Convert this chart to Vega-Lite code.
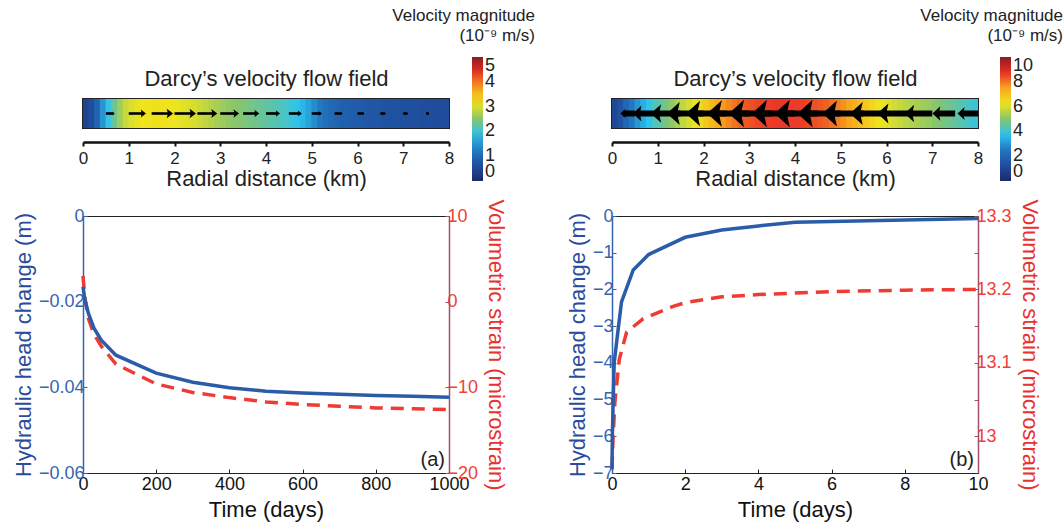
{
  "$schema": "https://vega.github.io/schema/vega-lite/v6.json",
  "padding": {"left": 11, "top": 7, "right": 4, "bottom": 4},
  "background": "white",
  "config": {"font": "Liberation Sans", "axis": {"grid": false}, "legend": {"padding": 0}},
  "datasets": {
    "fieldA": [
      {"r":0.0625,"v":0.45},{"r":0.1875,"v":0.6},{"r":0.3125,"v":0.95},{"r":0.4375,"v":1.5},{"r":0.5625,"v":1.95},{"r":0.6875,"v":2.3},{"r":0.8125,"v":2.65},{"r":0.9375,"v":2.9},
      {"r":1.0625,"v":3.0},{"r":1.1875,"v":3.08},{"r":1.3125,"v":3.12},{"r":1.4375,"v":3.14},{"r":1.5625,"v":3.15},{"r":1.6875,"v":3.15},{"r":1.8125,"v":3.14},{"r":1.9375,"v":3.12},
      {"r":2.0625,"v":3.1},{"r":2.1875,"v":3.06},{"r":2.3125,"v":3.02},{"r":2.4375,"v":2.97},{"r":2.5625,"v":2.91},{"r":2.6875,"v":2.85},{"r":2.8125,"v":2.78},{"r":2.9375,"v":2.7},
      {"r":3.0625,"v":2.63},{"r":3.1875,"v":2.58},{"r":3.3125,"v":2.53},{"r":3.4375,"v":2.48},{"r":3.5625,"v":2.43},{"r":3.6875,"v":2.38},{"r":3.8125,"v":2.33},{"r":3.9375,"v":2.28},
      {"r":4.0625,"v":2.23},{"r":4.1875,"v":2.18},{"r":4.3125,"v":2.12},{"r":4.4375,"v":2.05},{"r":4.5625,"v":1.98},{"r":4.6875,"v":1.9},{"r":4.8125,"v":1.78},{"r":4.9375,"v":1.6},
      {"r":5.0625,"v":1.42},{"r":5.1875,"v":1.27},{"r":5.3125,"v":1.14},{"r":5.4375,"v":1.04},{"r":5.5625,"v":0.97},{"r":5.6875,"v":0.92},{"r":5.8125,"v":0.88},{"r":5.9375,"v":0.84},
      {"r":6.0625,"v":0.81},{"r":6.1875,"v":0.78},{"r":6.3125,"v":0.76},{"r":6.4375,"v":0.74},{"r":6.5625,"v":0.72},{"r":6.6875,"v":0.7},{"r":6.8125,"v":0.69},{"r":6.9375,"v":0.67},
      {"r":7.0625,"v":0.66},{"r":7.1875,"v":0.65},{"r":7.3125,"v":0.64},{"r":7.4375,"v":0.63},{"r":7.5625,"v":0.62},{"r":7.6875,"v":0.61},{"r":7.8125,"v":0.6},{"r":7.9375,"v":0.6}
    ],
    "fieldB": [
      {"r":0.0625,"v":1.0},{"r":0.1875,"v":1.4},{"r":0.3125,"v":2.0},{"r":0.4375,"v":2.5},{"r":0.5625,"v":3.0},{"r":0.6875,"v":3.4},{"r":0.8125,"v":3.8},{"r":0.9375,"v":4.2},
      {"r":1.0625,"v":4.5},{"r":1.1875,"v":4.8},{"r":1.3125,"v":5.1},{"r":1.4375,"v":5.4},{"r":1.5625,"v":5.7},{"r":1.6875,"v":5.95},{"r":1.8125,"v":6.2},{"r":1.9375,"v":6.5},
      {"r":2.0625,"v":6.8},{"r":2.1875,"v":7.1},{"r":2.3125,"v":7.35},{"r":2.4375,"v":7.6},{"r":2.5625,"v":7.8},{"r":2.6875,"v":8.0},{"r":2.8125,"v":8.15},{"r":2.9375,"v":8.3},
      {"r":3.0625,"v":8.4},{"r":3.1875,"v":8.5},{"r":3.3125,"v":8.55},{"r":3.4375,"v":8.6},{"r":3.5625,"v":8.65},{"r":3.6875,"v":8.65},{"r":3.8125,"v":8.65},{"r":3.9375,"v":8.6},
      {"r":4.0625,"v":8.6},{"r":4.1875,"v":8.55},{"r":4.3125,"v":8.5},{"r":4.4375,"v":8.4},{"r":4.5625,"v":8.3},{"r":4.6875,"v":8.2},{"r":4.8125,"v":8.05},{"r":4.9375,"v":7.9},
      {"r":5.0625,"v":7.7},{"r":5.1875,"v":7.5},{"r":5.3125,"v":7.3},{"r":5.4375,"v":7.05},{"r":5.5625,"v":6.8},{"r":5.6875,"v":6.55},{"r":5.8125,"v":6.35},{"r":5.9375,"v":6.2},
      {"r":6.0625,"v":6.05},{"r":6.1875,"v":5.9},{"r":6.3125,"v":5.75},{"r":6.4375,"v":5.6},{"r":6.5625,"v":5.5},{"r":6.6875,"v":5.4},{"r":6.8125,"v":5.3},{"r":6.9375,"v":5.2},
      {"r":7.0625,"v":5.05},{"r":7.1875,"v":4.9},{"r":7.3125,"v":4.75},{"r":7.4375,"v":4.6},{"r":7.5625,"v":4.45},{"r":7.6875,"v":4.3},{"r":7.8125,"v":4.15},{"r":7.9375,"v":4.0}
    ],
    "arrowsA": [
      {"r":0.5,"e":0.665,"len":0.19},{"r":1.0,"e":1.32,"len":0.37},{"r":1.5,"e":1.9,"len":0.46},{"r":2.0,"e":2.4,"len":0.46},{"r":2.5,"e":2.87,"len":0.43},
      {"r":3.0,"e":3.35,"len":0.4},{"r":3.5,"e":3.8,"len":0.35},{"r":4.0,"e":4.26,"len":0.3},{"r":4.5,"e":4.74,"len":0.28},{"r":5.0,"e":5.19,"len":0.22},
      {"r":5.5,"e":5.65,"len":0.17},{"r":6.0,"e":6.13,"len":0.15},{"r":6.5,"e":6.6,"len":0.12},{"r":7.0,"e":7.09,"len":0.1},{"r":7.5,"e":7.56,"len":0.07}
    ],
    "arrowsB": [
      {"r":0.5,"e":0.24,"len":0.32},{"r":1.0,"e":0.55,"len":0.55},{"r":1.5,"e":0.96,"len":0.65},{"r":2.0,"e":1.34,"len":0.8},{"r":2.5,"e":1.77,"len":0.88},
      {"r":3.0,"e":2.24,"len":0.92},{"r":3.5,"e":2.72,"len":0.95},{"r":4.0,"e":3.22,"len":0.95},{"r":4.5,"e":3.72,"len":0.95},{"r":5.0,"e":4.22,"len":0.95},
      {"r":5.5,"e":4.76,"len":0.9},{"r":6.0,"e":5.34,"len":0.8},{"r":6.5,"e":5.92,"len":0.7},{"r":7.0,"e":6.5,"len":0.6},{"r":7.5,"e":7.09,"len":0.5},{"r":8.0,"e":7.63,"len":0.45}
    ],
    "headA": [
      {"t":0,"h":-0.0165},{"t":5,"h":-0.0195},{"t":15,"h":-0.0228},{"t":30,"h":-0.0262},{"t":50,"h":-0.029},{"t":90,"h":-0.0325},{"t":200,"h":-0.0367},{"t":300,"h":-0.0388},
      {"t":400,"h":-0.0401},{"t":500,"h":-0.0409},{"t":600,"h":-0.0413},{"t":700,"h":-0.0416},{"t":800,"h":-0.0419},{"t":900,"h":-0.0421},{"t":1000,"h":-0.0423}
    ],
    "strainA": [
      {"t":0,"s":3.0},{"t":5,"s":0.5},{"t":15,"s":-2.0},{"t":30,"s":-3.8},{"t":50,"s":-5.2},{"t":90,"s":-7.3},{"t":200,"s":-9.6},{"t":300,"s":-10.6},
      {"t":400,"s":-11.2},{"t":500,"s":-11.7},{"t":600,"s":-12.0},{"t":700,"s":-12.2},{"t":800,"s":-12.4},{"t":900,"s":-12.5},{"t":1000,"s":-12.6}
    ],
    "headB": [
      {"t":0,"h":-6.9},{"t":0.01,"h":-6.0},{"t":0.03,"h":-5.1},{"t":0.06,"h":-4.0},{"t":0.17,"h":-3.07},{"t":0.26,"h":-2.34},{"t":0.58,"h":-1.47},
      {"t":1.0,"h":-1.05},{"t":2,"h":-0.58},{"t":3,"h":-0.38},{"t":4,"h":-0.27},{"t":5,"h":-0.17},{"t":10,"h":-0.07}
    ],
    "strainB": [
      {"t":0,"s":12.955},{"t":0.03,"s":13.0},{"t":0.08,"s":13.047},{"t":0.2,"s":13.105},{"t":0.4,"s":13.142},{"t":0.85,"s":13.16},{"t":1.67,"s":13.177},
      {"t":2,"s":13.182},{"t":3,"s":13.19},{"t":4,"s":13.193},{"t":5,"s":13.195},{"t":6,"s":13.197},{"t":8,"s":13.199},{"t":10,"s":13.2}
    ]
  },
  "concat": [
    {
      "width": 366, "height": 29,
      "view": {"stroke": "#222", "strokeWidth": 2},
      "layer": [
        {
          "data": {"name": "fieldA"},
          "mark": {"type": "tick", "orient": "vertical", "thickness": 6.5, "size": 29, "opacity": 1, "clip": true},
          "encoding": {
            "x": {"field": "r", "type": "quantitative", "title": "Radial distance (km)", "scale": {"domain": [0, 8], "nice": false, "zero": false},
              "axis": {"orient": "bottom", "offset": 14, "values": [0,1,2,3,4,5,6,7,8], "domainColor": "#111", "domainWidth": 2.5, "tickColor": "#111", "tickWidth": 2, "tickSize": 4,
                "labelFontSize": 17, "labelColor": "#222", "labelPadding": 4, "labelFlush": false, "titleFontSize": 22, "titleFontWeight": "normal", "titleColor": "#222", "titlePadding": 2}},
            "y": {"datum": 0, "type": "quantitative", "scale": {"domain": [-1, 1]}, "axis": null},
            "color": {"field": "v", "type": "quantitative",
              "scale": {"domain": [0,0.625,1.25,1.875,2.5,3.125,3.75,4.375,5], "range": ["#1a2a6c","#1f4e9e","#2277c0","#2cc3ee","#86c56e","#efe51d","#f7a51d","#ea2d27","#8c1c1f"], "interpolate": "rgb"},
              "legend": {"orient": "none", "legendX": 309, "legendY": -91, "direction": "vertical", "gradientLength": 124, "gradientThickness": 11, "gradientStrokeWidth": 0,
                "values": [0,1,2,3,4,5], "labelBaseline": "middle", "labelExpr": "datum.label + '        \u200b'",
                "title": ["Velocity magnitude", "(10⁻⁹ m/s)"], "titleFontSize": 17, "titleFontWeight": "normal", "titleColor": "#222",
                "titleAnchor": "end", "titleAlign": "right", "titleLineHeight": 20, "titlePadding": 12, "labelFontSize": 18, "labelColor": "#222", "labelOverlap": false}}
          }
        },
        {
          "data": {"name": "arrowsA"},
          "mark": {"type": "rule", "color": "#000", "strokeWidth": 2.6},
          "encoding": {
            "x": {"field": "r", "type": "quantitative", "title": "Darcy’s velocity flow field", "scale": {"domain": [0, 8], "nice": false, "zero": false},
              "axis": {"orient": "top", "domain": false, "ticks": false, "labels": false, "titleFontSize": 22, "titleFontWeight": "normal", "titleColor": "#222", "titlePadding": 9}},
            "x2": {"field": "e"},
            "y": {"datum": 0, "type": "quantitative"}
          }
        },
        {
          "data": {"name": "arrowsA"},
          "mark": {"type": "point", "shape": "M0.5,0 L-0.5,-0.75 L-0.3,0 L-0.5,0.75 Z", "filled": true, "color": "#000", "opacity": 1, "strokeWidth": 0},
          "encoding": {
            "x": {"field": "e", "type": "quantitative", "scale": {"domain": [0, 8], "nice": false, "zero": false}, "axis": null},
            "y": {"datum": 0, "type": "quantitative"},
            "size": {"field": "len", "type": "quantitative", "scale": {"type": "pow", "exponent": 2, "domain": [0, 1], "range": [0, 784]}, "legend": null}
          }
        }
      ],
      "resolve": {"scale": {"x": "independent"}, "axis": {"x": "independent"}}
    },
    {
      "width": 366, "height": 29,
      "view": {"stroke": "#222", "strokeWidth": 2},
      "layer": [
        {
          "data": {"name": "fieldB"},
          "mark": {"type": "tick", "orient": "vertical", "thickness": 6.5, "size": 29, "opacity": 1, "clip": true},
          "encoding": {
            "x": {"field": "r", "type": "quantitative", "title": "Radial distance (km)", "scale": {"domain": [0, 8], "nice": false, "zero": false},
              "axis": {"orient": "bottom", "offset": 14, "values": [0,1,2,3,4,5,6,7,8], "domainColor": "#111", "domainWidth": 2.5, "tickColor": "#111", "tickWidth": 2, "tickSize": 4,
                "labelFontSize": 17, "labelColor": "#222", "labelPadding": 4, "labelFlush": false, "titleFontSize": 22, "titleFontWeight": "normal", "titleColor": "#222", "titlePadding": 2}},
            "y": {"datum": 0, "type": "quantitative", "scale": {"domain": [-1, 1]}, "axis": null},
            "color": {"field": "v", "type": "quantitative",
              "scale": {"domain": [0,1.25,2.5,3.75,5,6.25,7.5,8.75,10], "range": ["#1a2a6c","#1f4e9e","#2277c0","#2cc3ee","#86c56e","#efe51d","#f7a51d","#ea2d27","#8c1c1f"], "interpolate": "rgb"},
              "legend": {"orient": "none", "legendX": 308, "legendY": -91, "direction": "vertical", "gradientLength": 124, "gradientThickness": 11, "gradientStrokeWidth": 0,
                "values": [0,2,4,6,8,10], "labelBaseline": "middle", "labelExpr": "datum.label + '      \u200b'",
                "title": ["Velocity magnitude", "(10⁻⁹ m/s)"], "titleFontSize": 17, "titleFontWeight": "normal", "titleColor": "#222",
                "titleAnchor": "end", "titleAlign": "right", "titleLineHeight": 20, "titlePadding": 12, "labelFontSize": 18, "labelColor": "#222", "labelOverlap": false}}
          }
        },
        {
          "data": {"name": "arrowsB"},
          "mark": {"type": "rule", "color": "#000", "strokeWidth": 6},
          "encoding": {
            "x": {"field": "r", "type": "quantitative", "title": "Darcy’s velocity flow field", "scale": {"domain": [0, 8], "nice": false, "zero": false},
              "axis": {"orient": "top", "domain": false, "ticks": false, "labels": false, "titleFontSize": 22, "titleFontWeight": "normal", "titleColor": "#222", "titlePadding": 9}},
            "x2": {"field": "e"},
            "y": {"datum": 0, "type": "quantitative"}
          }
        },
        {
          "data": {"name": "arrowsB"},
          "mark": {"type": "point", "shape": "M-0.5,0 L0.5,-0.9 L0.3,0 L0.5,0.9 Z", "filled": true, "color": "#000", "opacity": 1, "strokeWidth": 0},
          "encoding": {
            "x": {"field": "e", "type": "quantitative", "scale": {"domain": [0, 8], "nice": false, "zero": false}, "axis": null},
            "y": {"datum": 0, "type": "quantitative"},
            "size": {"field": "len", "type": "quantitative", "scale": {"type": "pow", "exponent": 2, "domain": [0, 1], "range": [0, 1024]}, "legend": null}
          }
        }
      ],
      "resolve": {"scale": {"x": "independent"}, "axis": {"x": "independent"}}
    },
    {
      "width": 366, "height": 257,
      "view": {"stroke": "#222", "strokeWidth": 1},
      "layer": [
        {
          "data": {"name": "strainA"},
          "mark": {"type": "line", "color": "#ee3b33", "strokeWidth": 3.5, "strokeDash": [13, 8]},
          "encoding": {
            "x": {"field": "t", "type": "quantitative", "title": "Time (days)", "scale": {"domain": [0, 1000], "nice": false},
              "axis": {"values": [0,200,400,600,800,1000], "format": "d", "labelFontSize": 18, "labelColor": "#111", "titleFontSize": 22, "titleFontWeight": "normal", "titleColor": "#111",
                "domainColor": "#222", "tickColor": "#222", "tickSize": -4, "labelPadding": 6, "labelFlush": false, "titlePadding": 6}},
            "y": {"field": "s", "type": "quantitative", "scale": {"domain": [-20, 10], "nice": false, "zero": false},
              "axis": {"orient": "right", "title": "Volumetric strain (microstrain)", "values": [10,0,-10,-20], "titleFontSize": 22, "titleFontWeight": "normal", "titleColor": "#e8322e",
                "labelColor": "#ef4136", "labelFontSize": 18, "domainColor": "#a64d6a", "domainWidth": 1.5, "tickColor": "#a64d6a", "tickSize": -4, "labelPadding": 2, "titlePadding": 6}}
          }
        },
        {
          "data": {"name": "headA"},
          "mark": {"type": "line", "color": "#2a5ca8", "strokeWidth": 3.5},
          "encoding": {
            "x": {"field": "t", "type": "quantitative", "title": "Time (days)"},
            "y": {"field": "h", "type": "quantitative", "scale": {"domain": [-0.06, 0], "nice": false, "zero": false},
              "axis": {"orient": "left", "title": "Hydraulic head change (m)", "values": [0,-0.02,-0.04,-0.06], "labelExpr": "datum.value == 0 ? '0' : datum.label",
                "titleFontSize": 22, "titleFontWeight": "normal", "titleColor": "#2b4c9b",
                "labelColor": "#3565b0", "labelFontSize": 18, "domainColor": "#3565b0", "domainWidth": 1.5, "tickColor": "#3565b0", "tickSize": -4, "labelPadding": 3, "titlePadding": 3}}
          }
        },
        {
          "data": {"values": [{}]},
          "mark": {"type": "text", "text": "(a)", "fontSize": 20, "color": "#222", "align": "right", "baseline": "bottom", "dx": -4, "dy": -3},
          "encoding": {
            "x": {"datum": 1000, "type": "quantitative"},
            "y": {"datum": 0, "type": "quantitative", "scale": {"domain": [0, 1]}, "axis": null}
          }
        }
      ],
      "resolve": {"scale": {"y": "independent"}, "axis": {"y": "independent"}}
    },
    {
      "width": 366, "height": 257,
      "view": {"stroke": "#222", "strokeWidth": 1},
      "layer": [
        {
          "data": {"name": "strainB"},
          "mark": {"type": "line", "color": "#ee3b33", "strokeWidth": 3.5, "strokeDash": [13, 8]},
          "encoding": {
            "x": {"field": "t", "type": "quantitative", "title": "Time (days)", "scale": {"domain": [0, 10], "nice": false},
              "axis": {"values": [0,2,4,6,8,10], "labelFontSize": 18, "labelColor": "#111", "titleFontSize": 22, "titleFontWeight": "normal", "titleColor": "#111",
                "domainColor": "#222", "tickColor": "#222", "tickSize": -4, "labelPadding": 6, "labelFlush": false, "titlePadding": 6}},
            "y": {"field": "s", "type": "quantitative", "scale": {"domain": [12.95, 13.3], "nice": false, "zero": false},
              "axis": {"orient": "right", "title": "Volumetric strain (microstrain)", "values": [13.0,13.05,13.1,13.15,13.2,13.25,13.3], "format": ".2~f",
                "labelExpr": "indexof(['13','13.1','13.2','13.3'], datum.label) >= 0 ? datum.label : ''",
                "titleFontSize": 22, "titleFontWeight": "normal", "titleColor": "#e8322e",
                "labelColor": "#ef4136", "labelFontSize": 18, "domainColor": "#a64d6a", "domainWidth": 1.5, "tickColor": "#a64d6a", "tickSize": -4, "labelPadding": 2, "titlePadding": 6}}
          }
        },
        {
          "data": {"name": "headB"},
          "mark": {"type": "line", "color": "#2a5ca8", "strokeWidth": 3.5},
          "encoding": {
            "x": {"field": "t", "type": "quantitative", "title": "Time (days)"},
            "y": {"field": "h", "type": "quantitative", "scale": {"domain": [-7, 0], "nice": false, "zero": false},
              "axis": {"orient": "left", "title": "Hydraulic head change (m)", "values": [0,-1,-2,-3,-4,-5,-6,-7], "titleFontSize": 22, "titleFontWeight": "normal", "titleColor": "#2b4c9b",
                "labelColor": "#3565b0", "labelFontSize": 18, "domainColor": "#3565b0", "domainWidth": 1.5, "tickColor": "#3565b0", "tickSize": -4, "labelPadding": 3, "titlePadding": 3}}
          }
        },
        {
          "data": {"values": [{}]},
          "mark": {"type": "text", "text": "(b)", "fontSize": 20, "color": "#222", "align": "right", "baseline": "bottom", "dx": -4, "dy": -3},
          "encoding": {
            "x": {"datum": 10, "type": "quantitative"},
            "y": {"datum": 0, "type": "quantitative", "scale": {"domain": [0, 1]}, "axis": null}
          }
        }
      ],
      "resolve": {"scale": {"y": "independent"}, "axis": {"y": "independent"}}
    }
  ],
  "columns": 2,
  "spacing": {"row": 88, "column": 163},
  "bounds": "flush",
  "resolve": {"scale": {"color": "independent", "size": "independent", "x": "independent", "y": "independent"}}
}
